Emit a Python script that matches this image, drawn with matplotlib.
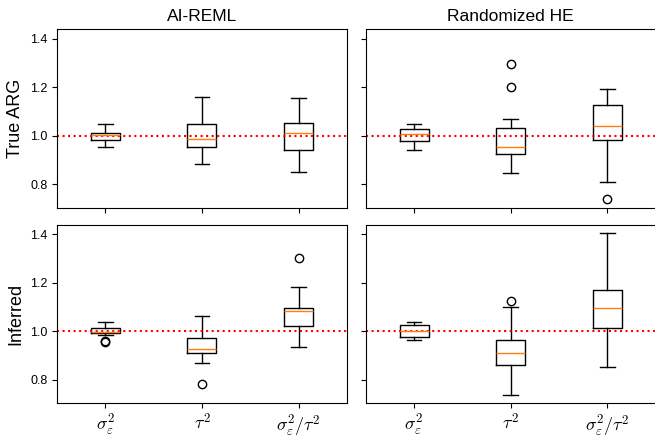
import matplotlib
matplotlib.use("Agg")
import matplotlib.pyplot as plt

plt.rcParams["font.family"] = ["Liberation Sans", "DejaVu Sans"]
plt.rcParams["mathtext.fontset"] = "cm"

methods = ["AI-REML", "Randomized HE"]
settings = ["True ARG", "Inferred"]
params = [r"$\sigma_\varepsilon^2$", r"$\tau^2$", r"$\sigma_\varepsilon^2/\tau^2$"]

# box stats: (whislo, q1, med, q3, whishi, fliers)
true_reml = [
    (0.953, 0.984, 1.005, 1.012, 1.049, []),
    (0.882, 0.953, 0.985, 1.048, 1.160, []),
    (0.851, 0.941, 1.011, 1.053, 1.155, []),
]
true_he = [
    (0.942, 0.977, 1.007, 1.027, 1.048, []),
    (0.847, 0.925, 0.953, 1.033, 1.070, [1.201, 1.297]),
    (0.811, 0.984, 1.042, 1.125, 1.193, [0.738]),
]
inferred_reml = [
    (0.986, 0.993, 0.997, 1.014, 1.040, [0.960, 0.955]),
    (0.870, 0.910, 0.929, 0.971, 1.062, [0.782]),
    (0.937, 1.021, 1.084, 1.097, 1.182, [1.303]),
]
inferred_he = [
    (0.964, 0.978, 1.000, 1.027, 1.041, []),
    (0.737, 0.860, 0.912, 0.964, 1.099, [1.125]),
    (0.854, 1.014, 1.096, 1.172, 1.407, []),
]

panels = [[true_reml, true_he], [inferred_reml, inferred_he]]


def to_stats(rows):
    out = []
    for lo, q1, med, q3, hi, fl in rows:
        out.append({"whislo": lo, "q1": q1, "med": med, "q3": q3,
                    "whishi": hi, "fliers": fl})
    return out


fig, axes = plt.subplots(2, 2, figsize=(6.55, 4.4), dpi=100,
                         sharex=True, sharey=True)
fig.subplots_adjust(left=0.087, right=1.001, top=0.934, bottom=0.083,
                    wspace=0.065, hspace=0.095)

for i in range(2):
    for j in range(2):
        ax = axes[i, j]
        ax.bxp(to_stats(panels[i][j]), positions=[1, 2, 3],
               medianprops={"color": "C1"})
        ax.axhline(1.0, color="red", linestyle=":", linewidth=1.5)
        ax.set_ylim(0.703, 1.44)
        ax.set_xlim(0.5, 3.5)
        ax.set_yticks([0.8, 1.0, 1.2, 1.4])
        ax.tick_params(labelsize=9)
        if i == 0:
            ax.set_title(methods[j], fontsize=12.5)
        if j == 0:
            ax.set_ylabel(settings[i], fontsize=13)

axes[1, 0].set_xticks([1, 2, 3])
axes[1, 0].set_xticklabels(params)
for ax in axes[1]:
    ax.tick_params(axis="x", labelsize=13)

fig.savefig("out.png")
